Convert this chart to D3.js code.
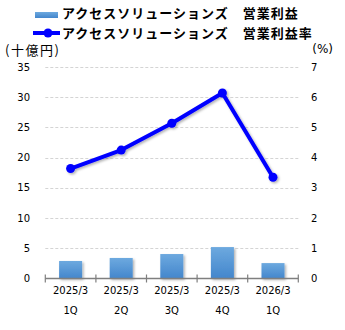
<!DOCTYPE html>
<html><head><meta charset="utf-8">
<script src="https://cdn.jsdelivr.net/npm/d3@7"></script>
<style>body{margin:0;background:#fff}svg{display:block}</style>
</head><body>
<script>
const periods = ["2025/3","2025/3","2025/3","2025/3","2026/3"];
const quarters = ["1Q","2Q","3Q","4Q","1Q"];
const profit = [2.9, 3.4, 4.05, 5.2, 2.55];      // 十億円
const margin = [3.64, 4.25, 5.14, 6.14, 3.35];   // %
const leftTicks = [0,5,10,15,20,25,30,35];
const rightTicks = [0,1,2,3,4,5,6,7];
const legendBar = "アクセスソリューションズ　営業利益";
const legendLine = "アクセスソリューションズ　営業利益率";
const leftTitle = "(十億円)";
const rightTitle = "(%)";

const W=345,H=330;
const svg=d3.select("body").append("svg").attr("width",W).attr("height",H);
const defs=svg.append("defs");
const g1=defs.append("linearGradient").attr("id","bg").attr("x1",0).attr("y1",0).attr("x2",0).attr("y2",1);
g1.append("stop").attr("offset","0%").attr("stop-color","#6da9df");
g1.append("stop").attr("offset","100%").attr("stop-color","#4386cc");
const f=defs.append("filter").attr("id","sh").attr("x","-20%").attr("y","-20%").attr("width","150%").attr("height","150%");
f.append("feDropShadow").attr("dx",1.5).attr("dy",1.5).attr("stdDeviation",1).attr("flood-color","#000").attr("flood-opacity",0.3);

const x=d3.scaleBand().domain(d3.range(5)).range([45.3,298.3]).paddingInner(0.545).paddingOuter(0.2725);
const yL=d3.scaleLinear().domain([0,35]).range([278.5,67]);
const yR=d3.scaleLinear().domain([0,7]).range([278.5,67]);
const tickFont="'DejaVu Sans', Verdana, sans-serif";
const jpFont="'Noto Sans CJK JP', sans-serif";

// gridlines
svg.append("g").selectAll("line").data(leftTicks.filter(d=>d>0)).join("line")
  .attr("x1",45.3).attr("x2",298.3).attr("y1",d=>Math.round(yL(d))+0.5).attr("y2",d=>Math.round(yL(d))+0.5)
  .attr("stroke","#d4d4d4").attr("stroke-dasharray","3,2");

// left / right labels
svg.append("g").selectAll("text").data(leftTicks).join("text")
  .attr("x",30).attr("y",d=>yL(d)).attr("dy","0.35em").attr("text-anchor","end")
  .attr("font-family",tickFont).attr("font-size",10).attr("fill","#000").text(d=>d);
svg.append("g").selectAll("text").data(rightTicks).join("text")
  .attr("x",311).attr("y",d=>yR(d)).attr("dy","0.35em").attr("text-anchor","start")
  .attr("font-family",tickFont).attr("font-size",10).attr("fill","#000").text(d=>d);

// bars
svg.append("g").selectAll("rect").data(profit).join("rect")
  .attr("x",(d,i)=>x(i)).attr("width",x.bandwidth())
  .attr("y",d=>yL(d)).attr("height",d=>yL(0)-yL(d))
  .attr("fill","url(#bg)").attr("filter","url(#sh)");

// x axis
const ax=svg.append("g");
ax.append("line").attr("x1",45.3).attr("x2",298.3).attr("y1",278.5).attr("y2",278.5).attr("stroke","#7f7f7f").attr("stroke-width",1.5);
const step=x.step();
ax.selectAll("line.t").data(d3.range(6)).join("line").attr("class","t")
  .attr("x1",i=>45.3+i*step).attr("x2",i=>45.3+i*step).attr("y1",274.5).attr("y2",282.5)
  .attr("stroke","#7f7f7f").attr("stroke-width",1.2);
ax.selectAll("text.p").data(periods).join("text").attr("class","p")
  .attr("x",(d,i)=>x(i)+x.bandwidth()/2).attr("y",290).attr("dy","0.35em").attr("text-anchor","middle")
  .attr("font-family",tickFont).attr("font-size",10).text(d=>d);
ax.selectAll("text.q").data(quarters).join("text").attr("class","q")
  .attr("x",(d,i)=>x(i)+x.bandwidth()/2).attr("y",310.5).attr("dy","0.35em").attr("text-anchor","middle")
  .attr("font-family",tickFont).attr("font-size",10).text(d=>d);

// line
const lg=svg.append("g").attr("filter","url(#sh)");
lg.append("path").datum(margin)
  .attr("d",d3.line().x((d,i)=>x(i)+x.bandwidth()/2).y(d=>yR(d)))
  .attr("fill","none").attr("stroke","#0000ff").attr("stroke-width",4).attr("stroke-linejoin","round");
lg.selectAll("circle").data(margin).join("circle")
  .attr("cx",(d,i)=>x(i)+x.bandwidth()/2).attr("cy",d=>yR(d)).attr("r",4.5).attr("fill","#0000ff");

// axis titles
svg.append("text").attr("x",5).attr("y",50).attr("dy","0.35em").attr("font-family",jpFont).attr("font-size",13).attr("letter-spacing",1.5).text(leftTitle);
svg.append("text").attr("x",333).attr("y",49).attr("dy","0.35em").attr("text-anchor","end").attr("font-family",tickFont).attr("font-size",12).text(rightTitle);

// legend
const leg=svg.append("g");
leg.append("rect").attr("x",35).attr("y",12).attr("width",23).attr("height",6).attr("fill","url(#bg)");
leg.append("text").attr("x",62).attr("y",13.5).attr("dy","0.38em").attr("font-family",jpFont).attr("font-size",13).attr("font-weight","bold").attr("letter-spacing",1).text(legendBar);
leg.append("line").attr("x1",33).attr("x2",60).attr("y1",33).attr("y2",33).attr("stroke","#0000ff").attr("stroke-width",4);
leg.append("circle").attr("cx",48).attr("cy",33).attr("r",4.5).attr("fill","#0000ff");
leg.append("text").attr("x",62).attr("y",33).attr("dy","0.38em").attr("font-family",jpFont).attr("font-size",13).attr("font-weight","bold").attr("letter-spacing",1).text(legendLine);
</script>
</body></html>
